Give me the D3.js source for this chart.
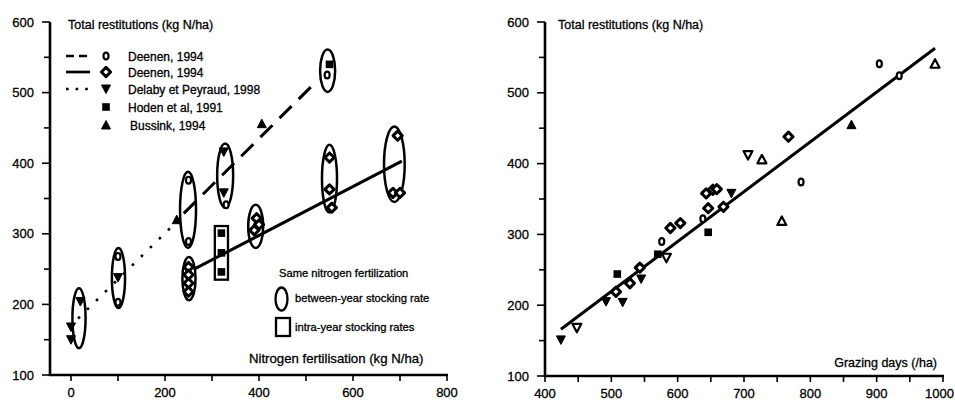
<!DOCTYPE html>
<html><head><meta charset="utf-8">
<script src="https://cdn.jsdelivr.net/npm/d3@7"></script>
<style>
body{margin:0;background:#fff;}
svg{display:block;font-family:"Liberation Sans",Arial,sans-serif;}
svg text{stroke:#000;stroke-width:0.3px;fill:#000;}
</style></head>
<body>
<svg id="c" width="955" height="403"></svg>
<script>
// ---------- DATA (left: Nitrogen fertilisation vs total restitutions) ----------
const leftXTicks = [0, 200, 400, 600, 800];
const yTicks = [100, 200, 300, 400, 500, 600];
const rightXTicks = [400, 500, 600, 700, 800, 900, 1000];

const leftDeenenA = [[100,268],[100,203],[250,376],[250,289],[330,341],[545,525]];
const leftDeenenB = [[250,253],[250,242],[250,230],[250,218],[395,322],[400,313],[390,305],[550,408],[550,363],[555,337],[695,439],[685,358],[700,358]];
const leftDelaby = [[0,168],[0,150],[20,204],[100,238],[325,416],[325,358]];
const leftHoden = [[320,301],[320,273],[320,246],[550,540]];
const leftBussink = [[225,320],[406,456]];

const lineDashed = [[240,329],[515,511]];
const lineSolid = [[262,250],[704,403]];
const lineDotted = [[15,180],[240,327]];

// ellipse groups: N, low, high, half-width (N units)
const ellN = [17, 101, 249, 251, 328, 393, 546, 550, 688];
const ellLo = [138, 195, 280, 206, 337, 280, 501, 330, 345];
const ellHi = [223, 280, 388, 267, 428, 341, 561, 426, 452];
const ellHalfW = [14, 14, 17, 14, 17, 16, 16, 16, 22];
// intra-year rectangle: N range, value range
const rectN = [306, 334];
const rectV = [235, 311];

// ---------- DATA (right: grazing days vs total restitutions) ----------
const rightDeenenA = [[576,290],[638,322],[786,374],[904,541],[934,524]];
const rightDeenenB = [[507,219],[528,231],[543,253],[589,309],[604,316],[646,337],[643,358],[653,363],[659,364],[669,339],[767,438]];
const rightDelaby = [[424,151],[492,205],[517,204],[545,237],[681,358]];
const rightDelabyOpen = [[448,168],[583,267],[706,412]];
const rightHoden = [[509,244],[570,272],[646,303]];
const rightBussink = [[862,455]];
const rightBussinkOpen = [[727,406],[757,319],[988,541]];
const rightFit = [[424,166],[988,563]];

const legendLabels = ["Deenen, 1994","Deenen, 1994","Delaby et Peyraud, 1998","Hoden et al, 1991","Bussink, 1994"];

// ---------- DRAW ----------
const svg = d3.select("#c");
const xL = d3.scaleLinear().domain([0,800]).range([71,447]);
const yL = d3.scaleLinear().domain([100,600]).range([375,22]);
const xR = d3.scaleLinear().domain([400,1000]).range([545,943]);
const yR = d3.scaleLinear().domain([100,600]).range([376,22]);

function marker(g, type, x, y, open){
  const s = 4.5;
  if(type==="ovalS"){
    g.append("ellipse").attr("cx",x).attr("cy",y).attr("rx",2.5).attr("ry",3.4)
      .attr("fill","#fff").attr("stroke","#000").attr("stroke-width",2.2);
  } else if(type==="ring"){
    g.append("path").attr("d",`M${x-4.6},${y}L${x},${y-4.6}L${x+4.6},${y}L${x},${y+4.6}Z`)
      .attr("fill","#fff").attr("stroke","#000").attr("stroke-width",3).attr("stroke-linejoin","round");
  } else if(type==="tdown"){
    g.append("path").attr("d",`M${x-s},${y-s+0.5}L${x+s},${y-s+0.5}L${x},${y+s}Z`)
      .attr("fill",open?"#fff":"#000").attr("stroke","#000").attr("stroke-width",open?2.2:1).attr("stroke-linejoin","round");
  } else if(type==="tup"){
    g.append("path").attr("d",`M${x-s},${y+s-0.5}L${x+s},${y+s-0.5}L${x},${y-s}Z`)
      .attr("fill",open?"#fff":"#000").attr("stroke","#000").attr("stroke-width",open?2.2:1).attr("stroke-linejoin","round");
  } else if(type==="square"){
    g.append("rect").attr("x",x-3.8).attr("y",y-3.8).attr("width",7.6).attr("height",7.6).attr("fill","#000");
  }
}

function axes(g, x, y, xTicks, xMinorStep, axisLeftX, xEnd, lastAnchorEnd){
  const yTop = y.range()[1], yBot = y.range()[0];
  g.append("line").attr("x1",axisLeftX).attr("x2",axisLeftX).attr("y1",yTop).attr("y2",yBot+1)
    .attr("stroke","#000").attr("stroke-width",2.6);
  g.append("line").attr("x1",axisLeftX-1).attr("x2",xEnd+1).attr("y1",yBot).attr("y2",yBot)
    .attr("stroke","#000").attr("stroke-width",2.6);
  const yMinor = d3.range(100,601,50);
  g.selectAll(null).data(yMinor).enter().append("line")
    .attr("x1",d=> d%100===0 ? axisLeftX-8 : axisLeftX-6).attr("x2",axisLeftX)
    .attr("y1",d=>y(d)).attr("y2",d=>y(d)).attr("stroke","#000").attr("stroke-width",1.6);
  g.selectAll(null).data(yTicks).enter().append("text")
    .attr("x",axisLeftX-16).attr("y",d=>y(d)+4.5).attr("text-anchor","end")
    .attr("font-size",13).text(d=>d);
  const d0 = x.domain()[0], d1 = x.domain()[1];
  const xMinor = d3.range(d0, d1+0.1, xMinorStep);
  g.selectAll(null).data(xMinor).enter().append("line")
    .attr("x1",d=>x(d)).attr("x2",d=>x(d)).attr("y1",yBot).attr("y2",yBot+6)
    .attr("stroke","#000").attr("stroke-width",1.6);
  g.selectAll(null).data(xTicks).enter().append("text")
    .attr("x",(d,i)=> (lastAnchorEnd && i===xTicks.length-1) ? 954 : x(d))
    .attr("y",yBot+22)
    .attr("text-anchor",(d,i)=> (lastAnchorEnd && i===xTicks.length-1) ? "end" : "middle")
    .attr("font-size",13).text(d=>d);
}

// ----- LEFT -----
const gL = svg.append("g");
axes(gL, xL, yL, leftXTicks, 100, 50, 447, false);
const line = (x,y)=> d3.line().x(d=>x(d[0])).y(d=>y(d[1]));

gL.append("path").attr("d",line(xL,yL)(lineDashed)).attr("stroke","#000").attr("stroke-width",3)
  .attr("stroke-dasharray","17,10").attr("fill","none");
gL.append("path").attr("d",line(xL,yL)(lineSolid)).attr("stroke","#000").attr("stroke-width",3).attr("fill","none");
gL.append("path").attr("d",line(xL,yL)(lineDotted)).attr("stroke","#000").attr("stroke-width",2.6)
  .attr("stroke-dasharray","2.6,10").attr("fill","none");

ellN.forEach((n,i)=>{
  const cx = xL(n), cy = (yL(ellLo[i])+yL(ellHi[i]))/2;
  const rx = xL(n+ellHalfW[i]) - xL(n), ry = (yL(ellLo[i])-yL(ellHi[i]))/2;
  gL.append("ellipse").attr("cx",cx).attr("cy",cy).attr("rx",rx).attr("ry",ry)
    .attr("fill","none").attr("stroke","#000").attr("stroke-width",2.5);
});
gL.append("rect").attr("x",xL(rectN[0])).attr("y",yL(rectV[1]))
  .attr("width",xL(rectN[1])-xL(rectN[0])).attr("height",yL(rectV[0])-yL(rectV[1]))
  .attr("fill","none").attr("stroke","#000").attr("stroke-width",2.3);

leftDeenenA.forEach(d=>marker(gL,"ovalS",xL(d[0]),yL(d[1])));
leftDeenenB.forEach(d=>marker(gL,"ring",xL(d[0]),yL(d[1])));
leftDelaby.forEach(d=>marker(gL,"tdown",xL(d[0]),yL(d[1])));
leftHoden.forEach(d=>marker(gL,"square",xL(d[0]),yL(d[1])));
leftBussink.forEach(d=>marker(gL,"tup",xL(d[0]),yL(d[1])));

gL.append("text").attr("x",68).attr("y",29).attr("font-size",12.5).text("Total restitutions (kg N/ha)");
gL.append("text").attr("x",249).attr("y",363).attr("font-size",13.2).text("Nitrogen fertilisation (kg N/ha)");

// legend 1
const legY = [56, 72, 89, 107, 125];
const legDash = ["8,5", null, "2.6,7", "", ""];
const legMarker = ["ovalS","ring","tdown","square","tup"];
legendLabels.forEach((lab,i)=>{
  if(legDash[i] !== ""){
    gL.append("line").attr("x1",66).attr("x2",90).attr("y1",legY[i]).attr("y2",legY[i])
      .attr("stroke","#000").attr("stroke-width",2.7)
      .attr("stroke-dasharray", legDash[i]);
  }
  marker(gL, legMarker[i], 106, legY[i]);
  gL.append("text").attr("x", i===4?130:128).attr("y",legY[i]+4.5).attr("font-size",12).text(lab);
});

// legend 2
gL.append("text").attr("x",279).attr("y",277).attr("font-size",11.2).text("Same nitrogen fertilization");
gL.append("ellipse").attr("cx",281.5).attr("cy",299).attr("rx",6).attr("ry",11.5)
  .attr("fill","none").attr("stroke","#000").attr("stroke-width",2.3);
gL.append("text").attr("x",295).attr("y",302).attr("font-size",11.2).text("between-year stocking rate");
gL.append("rect").attr("x",276).attr("y",318).attr("width",14).attr("height",18)
  .attr("fill","none").attr("stroke","#000").attr("stroke-width",2.3);
gL.append("text").attr("x",295).attr("y",331).attr("font-size",11.2).text("intra-year stocking rates");

// ----- RIGHT -----
const gR = svg.append("g");
axes(gR, xR, yR, rightXTicks, 50, 545, 943, true);
gR.append("path").attr("d",line(xR,yR)(rightFit)).attr("stroke","#000").attr("stroke-width",3).attr("fill","none");
rightDeenenA.forEach(d=>marker(gR,"ovalS",xR(d[0]),yR(d[1])));
rightDeenenB.forEach(d=>marker(gR,"ring",xR(d[0]),yR(d[1])));
rightDelaby.forEach(d=>marker(gR,"tdown",xR(d[0]),yR(d[1])));
rightDelabyOpen.forEach(d=>marker(gR,"tdown",xR(d[0]),yR(d[1]),true));
rightHoden.forEach(d=>marker(gR,"square",xR(d[0]),yR(d[1])));
rightBussink.forEach(d=>marker(gR,"tup",xR(d[0]),yR(d[1])));
rightBussinkOpen.forEach(d=>marker(gR,"tup",xR(d[0]),yR(d[1]),true));
gR.append("text").attr("x",558).attr("y",29).attr("font-size",12.5).text("Total restitutions (kg N/ha)");
gR.append("text").attr("x",937).attr("y",367).attr("text-anchor","end").attr("font-size",12.5).text("Grazing days (/ha)");
</script>
</body></html>
